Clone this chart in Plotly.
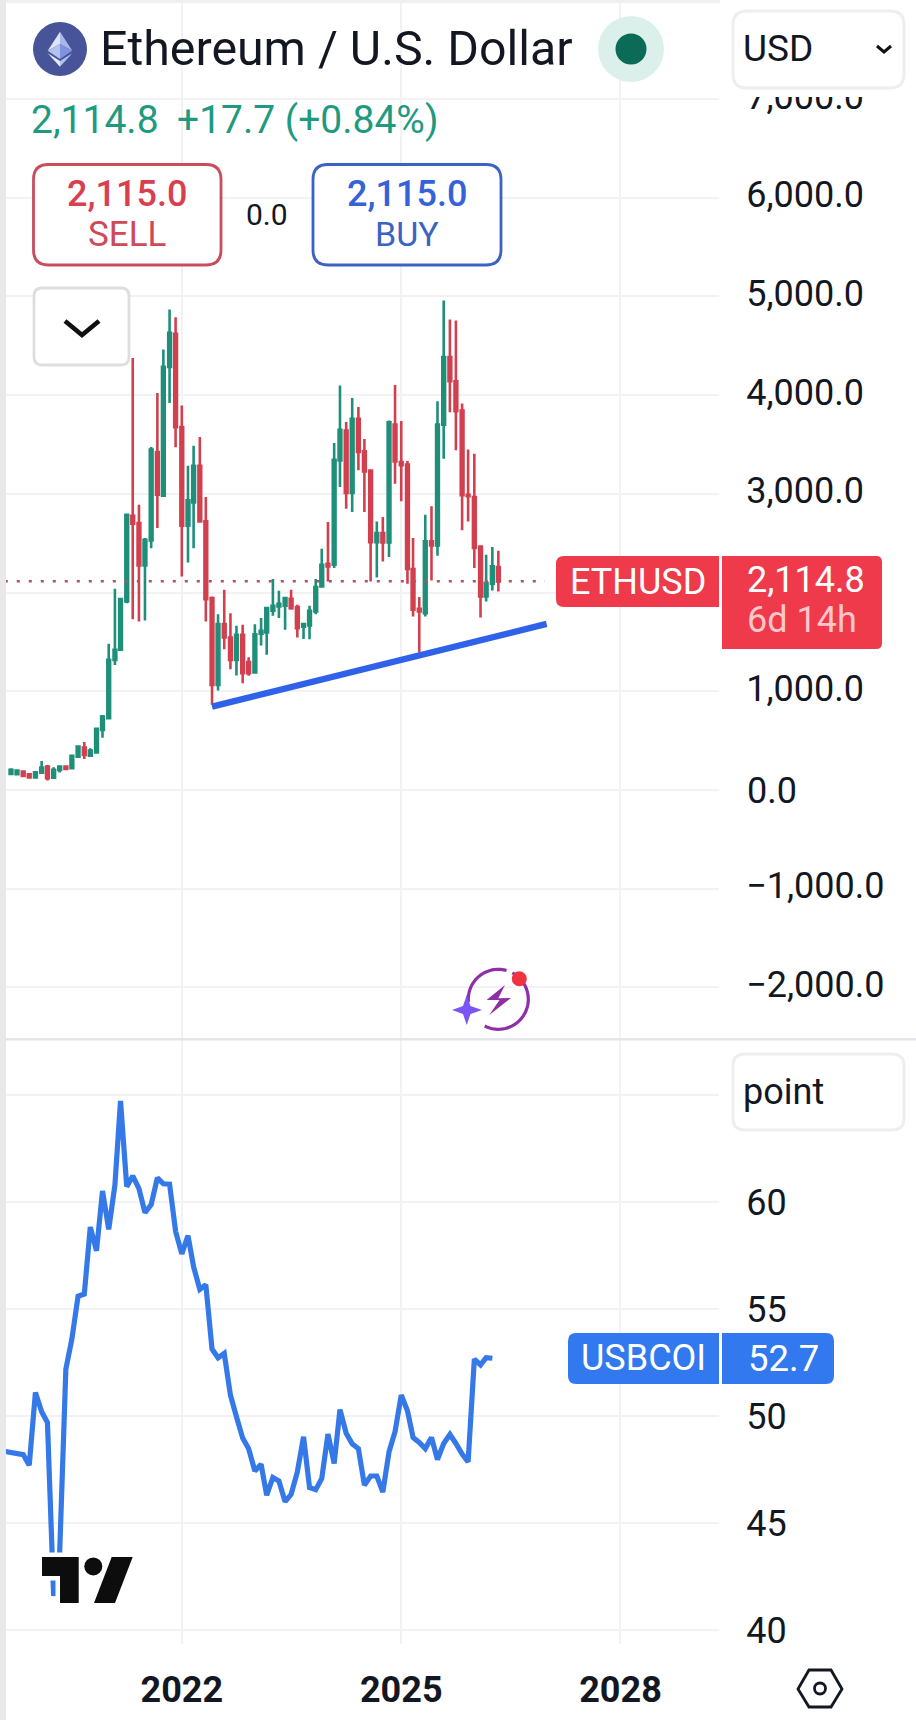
import math
import pandas as pd
import plotly.graph_objects as go

# ---------- data ----------
candle_start = "2019-09-01"
eth_open = [163,160,186,159,128,176,236,125,203,236,220,338,429,348,379,608,727,1318,1420,1910,
            2778,2704,2275,2528,3424,2981,4286,4621,3677,2677,2913,3285,2721,1943,1065,1680,1545,1318,1572,1295,
            1190,1582,1595,1815,1859,1866,1937,1852,1655,1666,1808,2062,2291,2281,3339,3640,3008,3759,
            3430,3235,2511,2603,2508,3701,3322,3296,2238,1835,1791,2518,2478,3701,4387,4140,3843,2991,2968,2467,
            1960,2089,2258]
eth_high = [220,196,190,165,179,294,253,230,243,247,355,446,487,422,625,760,1480,2038,1943,2795,
            4377,2890,2552,3475,4022,4462,4867,4790,3894,3285,3488,3576,2968,1960,1781,2028,1791,1663,1673,1345,
            1680,1741,1852,2136,2018,1943,2028,1876,1690,1865,2136,2444,2714,3515,4097,3728,3972,3880,
            3556,3238,2721,2765,3742,4103,3738,3332,2552,1954,2789,2873,3938,4958,4766,4756,3914,3448,3407,2474,
            2383,2461,2423]
eth_low = [152,150,135,120,125,170,95,118,176,205,213,331,314,338,375,530,727,1267,1412,1892,
           1730,1707,1717,2450,2653,2975,3921,3471,2163,2305,2450,2721,1707,862,1007,1426,1223,1159,1081,1156,
           1190,1464,1369,1764,1741,1622,1825,1545,1530,1527,1781,2055,2112,2248,3069,2849,2815,3238,
           2815,2112,2153,2315,2359,3103,2924,2089,1757,1392,1757,2123,2373,3356,3827,3441,2630,2721,2248,1747,
           1910,2021,2011]
eth_close = [203,196,142,128,179,226,118,203,236,213,345,439,355,399,619,744,1318,1420,1933,2788,
             2697,2275,2535,3448,2991,4286,4631,3674,2677,2934,3285,2721,1933,1065,1680,1545,1318,1572,1183,1183,
             1578,1612,1842,1866,1886,1943,1842,1639,1680,1815,2055,2281,2264,3346,3650,3008,3759,3424,
             3228,2511,2603,2508,3725,3329,3289,2238,1825,1808,2518,2478,3701,4387,4140,3836,2985,2975,2451,1960,
             2096,2265,2112]
last_price = 2114.8
price_line_dates = ["2019-08-01", "2026-12-20"]
trend_dates = ["2022-06-01", "2026-12-28"]
trend_values = [844, 1682]

usb_start = "2019-08-01"
usb_values = [48.35,48.3,48.3,48.2,47.7,
              51.1,50.2,49.7,41.6,43.6,52.2,53.6,55.6,55.7,58.83,57.72,60.52,
              58.72,60.8,64.72,60.72,61.22,60.63,59.5,59.88,61.13,60.85,60.83,58.63,
              57.58,58.43,56.97,55.92,56.13,53.13,52.72,52.93,50.97,49.97,48.97,48.47,
              47.43,47.75,46.3,47.13,46.97,46.0,46.34,47.39,49.03,46.66,46.56,47.08,
              49.16,47.78,50.3,49.2,48.7,48.48,46.77,47.2,47.2,46.45,48.33,49.27,
              50.98,50.25,49.0,48.77,48.48,49.0,47.97,48.72,49.14,48.72,48.22,47.86,
              52.66,52.39,52.73,52.7]

year_ticks = [2022, 2025, 2028]
price_ticks = [-2000,-1000,0,1000,2000,3000,4000,5000,6000,7000]
price_tick_labels = ["−2,000.0","−1,000.0","","1,000.0","","3,000.0","4,000.0","5,000.0","6,000.0","7,000.0"]
usb_ticks = [40,45,50,55,60,65]
usb_tick_labels = ["40","45","50","55","60",""]

x_range = ["2019-08-07", "2029-05-07"]
price_range = [-2523, 8003]
usb_range = [39.35, 67.57]

# ---------- colours ----------
GREEN = "#1F8F7A"; RED = "#D2404F"; GRID = "#F1F2F4"; INK = "#131722"
W, H = 916, 1720
FONT = "Roboto"

def px(x): return x / W
def py(y): return 1 - y / H

candle_dates = pd.date_range(candle_start, periods=len(eth_open), freq="MS")
usb_dates = pd.date_range(usb_start, periods=len(usb_values), freq="MS")

fig = go.Figure()
fig.add_trace(go.Candlestick(
    x=candle_dates, open=eth_open, high=eth_high, low=eth_low, close=eth_close,
    increasing=dict(line=dict(color=GREEN, width=2.6), fillcolor=GREEN),
    decreasing=dict(line=dict(color=RED, width=2.6), fillcolor=RED),
    whiskerwidth=0, xaxis="x", yaxis="y", showlegend=False))
fig.add_trace(go.Scatter(
    x=price_line_dates, y=[last_price, last_price], mode="lines",
    line=dict(color="#B5505C", width=2.5, dash="3px,9px"), xaxis="x", yaxis="y", showlegend=False))
fig.add_trace(go.Scatter(
    x=trend_dates, y=trend_values, mode="lines",
    line=dict(color="#2F62E8", width=6.4), xaxis="x", yaxis="y", showlegend=False))
fig.add_trace(go.Scatter(
    x=usb_dates, y=usb_values, mode="lines",
    line=dict(color="#3579E8", width=5.2), xaxis="x2", yaxis="y2", showlegend=False))

# ---------- decoration helpers (all in pixels of the page) ----------
shapes, notes = [], []

def poly(points, close=True):
    d = "M" + " L".join(f"{px(x):.5f},{py(y):.5f}" for x, y in points)
    return d + (" Z" if close else "")

def rrect(x0, y0, x1, y1, r):
    if not isinstance(r, (list, tuple)):
        r = [r] * 4
    tl, tr, br, bl = r
    def P(x, y): return f"{px(x):.5f},{py(y):.5f}"
    return (f"M{P(x0+tl,y0)} L{P(x1-tr,y0)} Q{P(x1,y0)} {P(x1,y0+tr)} L{P(x1,y1-br)} "
            f"Q{P(x1,y1)} {P(x1-br,y1)} L{P(x0+bl,y1)} Q{P(x0,y1)} {P(x0,y1-bl)} "
            f"L{P(x0,y0+tl)} Q{P(x0,y0)} {P(x0+tl,y0)} Z")

def add_path(d, fill="rgba(0,0,0,0)", line=None, width=0):
    shapes.append(dict(type="path", xref="paper", yref="paper", path=d, layer="above",
                       fillcolor=fill, line=dict(color=line or "rgba(0,0,0,0)", width=width)))

def add_circle(cx, cy, r, fill, line=None, width=0):
    shapes.append(dict(type="circle", xref="paper", yref="paper", layer="above",
                       x0=px(cx-r), x1=px(cx+r), y0=py(cy+r), y1=py(cy-r), fillcolor=fill,
                       line=dict(color=line or "rgba(0,0,0,0)", width=width)))

def add_text(x, y, text, size, color=INK, anchor="left", weight=400):
    notes.append(dict(xref="paper", yref="paper", x=px(x), y=py(y), text=text, showarrow=False,
                      xanchor=anchor, yanchor="middle", borderpad=0, align=anchor,
                      font=dict(family=FONT, size=size, color=color, weight=weight)))

def arc(cx, cy, r, a0, a1, n=40):
    return [(cx + r*math.cos(math.radians(a0 + (a1-a0)*i/n)),
             cy + r*math.sin(math.radians(a0 + (a1-a0)*i/n))) for i in range(n+1)]

# page edges
add_path(poly([(0,0),(6,0),(6,H),(0,H)]), fill="#E9E9EA")
add_path(poly([(6,0),(720,0),(720,3),(6,3)]), fill="#F0F0F1")
# mask above the clipped top tick label
add_path(poly([(720,0),(916,0),(916,97),(720,97)]), fill="#FFFFFF")
# pane separator
add_path(poly([(6,1038),(916,1038),(916,1040.5),(6,1040.5)]), fill="#E3E5E8")

# ETH icon
add_circle(60, 49, 27, "#47549A")
add_path(poly([(60,31.7),(72.3,50.7),(60,44)]), fill="#A9B8EC")
add_path(poly([(60,31.7),(47.7,50.7),(60,44)]), fill="#DCE3FA")
add_path(poly([(60,44),(72.3,50.7),(60,59)]), fill="#7F92DC")
add_path(poly([(60,44),(47.7,50.7),(60,59)]), fill="#B5C2F0")
add_path(poly([(47.7,53.3),(60,61),(60,66.7)]), fill="#E6EBFC")
add_path(poly([(72.3,53.3),(60,61),(60,66.7)]), fill="#B3C0EE")
add_text(99, 49, "Ethereum / U.S. Dollar", 48.3)
add_circle(631, 49, 33, "#DCF0EB")
add_circle(631, 49, 15.5, "#0B6B57")

add_text(30, 120, "2,114.8", 39, "#1F9A80")
add_text(176, 120, "+17.7 (+0.84%)", 39, "#1F9A80")

# SELL / BUY
add_path(rrect(33.5,164.5,221,265,15), fill="#FFFFFF", line="#C94D5B", width=2.8)
add_text(127, 194, "2,115.0", 36, "#D9404F", "center", 500)
add_text(127, 234, "SELL", 35, "#CE4A58", "center")
add_text(267, 214, "0.0", 30, INK, "center")
add_path(rrect(313,164.5,501,265,15), fill="#FFFFFF", line="#3A63C4", width=2.8)
add_text(407, 194, "2,115.0", 36, "#3562D8", "center", 500)
add_text(407, 234, "BUY", 34, "#3A63C4", "center")

# dropdown
add_path(rrect(34,288,129,365,8), fill="#FFFFFF", line="#DEDEDE", width=2.8)
add_path(poly([(65,321),(82,335),(99,321)], close=False), line="#111111", width=4.5)

# USD and point boxes
add_path(rrect(733,11,904,88,14), fill="#FFFFFF", line="#EEEEF0", width=3)
add_text(742, 48, "USD", 37)
add_path(poly([(877,46),(884,52),(891,46)], close=False), line="#111111", width=3)
add_path(rrect(733,1054,904,1130,12), fill="#FFFFFF", line="#EEEEF0", width=3)
add_text(742, 1092, "point", 36)

# zero tick label sits on its gridline, unlike the labels with a comma
add_text(746, 791, "0.0", 36)

# last-value labels
add_path(rrect(556,556,719,607,[8,0,0,8]), fill="#EE3A4B")
add_text(637.5, 582, "ETHUSD", 36, "#FFFFFF", "center")
add_path(rrect(722,556,882,649,[0,6,6,0]), fill="#EE3A4B")
add_text(746, 580, "2,114.8", 36, "#FFFFFF")
add_text(746, 620, "6d 14h", 36, "#FFC7CD")
add_path(rrect(568,1333,719,1384,[8,0,0,8]), fill="#3278EE")
add_text(643, 1358, "USBCOI", 36, "#FFFFFF", "center")
add_path(rrect(722,1333,834,1384,[0,8,8,0]), fill="#3278EE")
add_text(747, 1358, "52.7", 36.5, "#FFFFFF")

# sparkle icon
add_circle(519.3, 978.7, 10.5, "#FFFFFF")
add_path(poly(arc(498.3, 999.3, 30, -62, 125 - 8), close=False), line="#8E2FA8", width=3.2)
add_path(poly(arc(498.3, 999.3, 30, 175, 286), close=False), line="#8E2FA8", width=3.2)
add_path(poly([(505,985),(486.6,1000),(499.5,1000),(489.3,1015),(511,998),(498.3,998.3)]), fill="#8E2FA8")
star = [(466.7,995),(470.5,1006),(482,1010),(470.5,1014),(466.7,1025),(463,1014),(452,1010),(463,1006)]
add_path(poly(star), fill="#7B55F5")
add_circle(519.3, 978.7, 7.5, "#EF3340")

# gear hexagon
add_path(poly([(809,1670),(831,1670),(842,1689),(831,1707),(809,1707),(798,1689)]), line=INK, width=2.8)
add_circle(820, 1688.5, 5.5, "rgba(0,0,0,0)", line=INK, width=2.8)

# TradingView logo (white halo, then black)
logo_t = [(42,1557),(78.7,1557),(78.7,1603),(60,1603),(60,1576),(42,1576)]
logo_s = [(111.7,1557),(132.7,1557),(115,1603),(94,1603)]
for pts in (logo_t, logo_s):
    add_path(poly(pts), fill="#FFFFFF", line="#FFFFFF", width=9)
add_circle(93.3, 1566.4, 13, "#FFFFFF")
for pts in (logo_t, logo_s):
    add_path(poly(pts), fill="#0D0D0D")
add_circle(93.3, 1566.4, 9, "#0D0D0D")

dom_x = [px(6), px(719)]
fig.update_layout(
    width=W, height=H, autosize=False, margin=dict(l=0, r=0, t=0, b=0, pad=0),
    paper_bgcolor="#FFFFFF", plot_bgcolor="#FFFFFF", showlegend=False, hovermode=False,
    font=dict(family=FONT, color=INK),
    shapes=shapes, annotations=notes,
    xaxis=dict(domain=dom_x, anchor="y", range=x_range, type="date", rangeslider=dict(visible=False),
               automargin=False,
               tickvals=[f"{y}-01-01" for y in year_ticks], showticklabels=False, ticks="",
               showgrid=True, gridcolor=GRID, gridwidth=2, zeroline=False, showline=False),
    xaxis2=dict(domain=dom_x, anchor="y2", range=x_range, type="date", matches="x", automargin=False,
                tickvals=[f"{y}-01-01" for y in year_ticks], ticktext=[str(y) for y in year_ticks],
                ticks="outside", ticklen=14, tickcolor="rgba(0,0,0,0)",
                tickfont=dict(family=FONT, size=36, color=INK, weight=700),
                showgrid=True, gridcolor=GRID, gridwidth=2, zeroline=False, showline=False),
    yaxis=dict(domain=[py(1039), 1], anchor="x", side="right", range=price_range, automargin=False,
               tickvals=price_ticks, ticktext=price_tick_labels, ticks="outside", ticklen=19,
               ticklabelshift=-3,
               tickcolor="rgba(0,0,0,0)", tickfont=dict(family=FONT, size=36, color=INK),
               showgrid=True, gridcolor=GRID, gridwidth=2, zeroline=False, showline=False),
    yaxis2=dict(domain=[py(1644), py(1040)], anchor="x2", side="right", range=usb_range, automargin=False,
                tickvals=usb_ticks, ticktext=usb_tick_labels, ticks="outside", ticklen=19,
                tickcolor="rgba(0,0,0,0)", tickfont=dict(family=FONT, size=36, color=INK),
                showgrid=True, gridcolor=GRID, gridwidth=2, zeroline=False, showline=False),
)

fig.write_html("out.html", config=dict(displayModeBar=False, staticPlot=True),
               post_script="document.body.style.margin='0';")
